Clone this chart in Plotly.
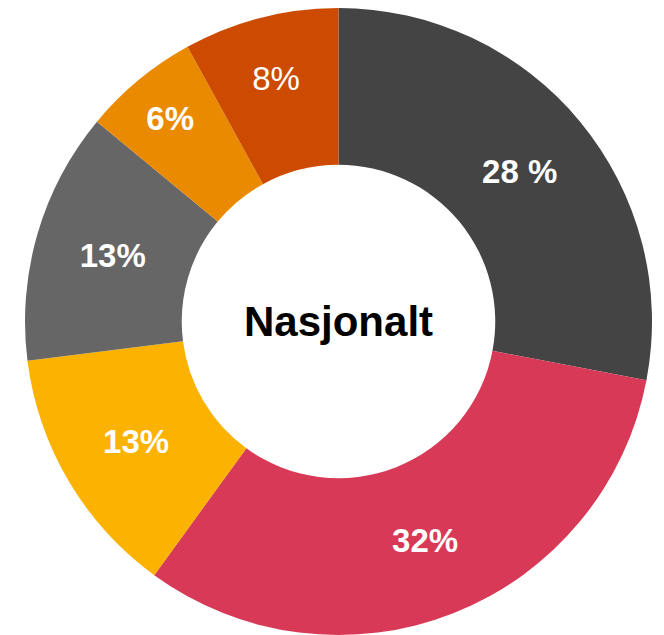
import plotly.graph_objects as go

categories = ["Kategori A", "Kategori B", "Kategori C", "Kategori D", "Kategori E", "Kategori F"]
values = [28, 32, 13, 13, 6, 8]
labels_text = ["<b>28 %</b>", "<b>32%</b>", "<b>13%</b>", "<b>13%</b>", "<b>6%</b>", "8%"]
colors = ["#444444", "#D73956", "#FBB200", "#666666", "#E98A00", "#CD4B00"]
center_title = "Nasjonalt"

fig = go.Figure(
    go.Pie(
        labels=categories,
        values=values,
        text=labels_text,
        textinfo="text",
        textposition="inside",
        insidetextorientation="horizontal",
        textfont=dict(family="Liberation Sans, Arial, sans-serif", size=33, color="white"),
        marker=dict(colors=colors, line=dict(width=0)),
        hole=0.5,
        sort=False,
        direction="clockwise",
        rotation=0,
        showlegend=False,
    )
)

fig.add_annotation(
    text="<b>" + center_title + "</b>",
    x=0.5, y=0.5, xref="paper", yref="paper",
    showarrow=False,
    font=dict(family="Liberation Sans, Arial, sans-serif", size=42, color="black"),
)

fig.update_layout(
    width=664,
    height=635,
    margin=dict(l=17, r=20, t=0, b=8),
    paper_bgcolor="white",
    plot_bgcolor="white",
    uniformtext=dict(minsize=33, mode="show"),
)

fig.write_html("out.html")
